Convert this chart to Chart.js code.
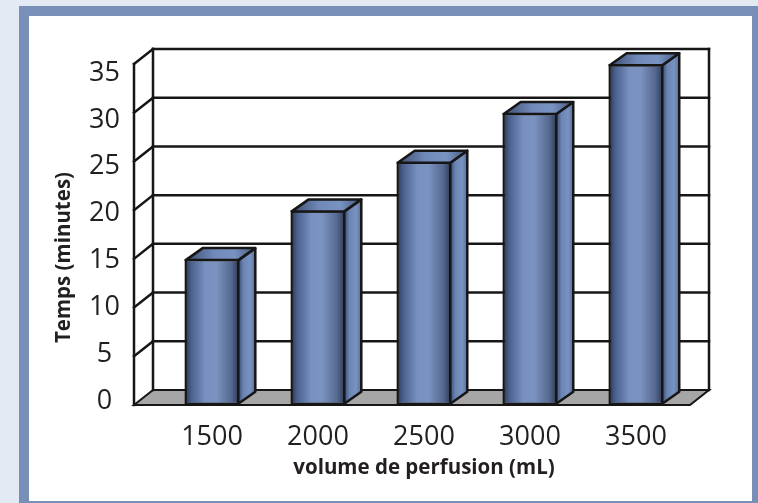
<!DOCTYPE html>
<html>
<head>
<meta charset="utf-8">
<script src="https://cdn.jsdelivr.net/npm/chart.js@4/dist/chart.umd.min.js"></script>
<style>
  html, body { margin: 0; padding: 0; background: #e3eaf3; width: 758px; height: 503px; overflow: hidden; }
  #frame { position: absolute; left: 19px; top: 6px; width: 739px; height: 497px; background: #7890b8; }
  #panel { position: absolute; left: 29px; top: 16px; width: 723px; height: 485px; background: #ffffff; }
  #c { position: absolute; left: 0; top: 0; }
</style>
</head>
<body>
<div id="frame"></div>
<div id="panel"></div>
<canvas id="c" width="758" height="503"></canvas>
<script>
// Infusion volume (mL) and the time it takes (minutes)
const volumes = [1500, 2000, 2500, 3000, 3500];
const minutes = [15, 20, 25, 30, 35];
const yTicks = [0, 5, 10, 15, 20, 25, 30, 35];

const X_TITLE = 'volume de perfusion (mL)';
const Y_TITLE = 'Temps (minutes)';

const WALL = { dx: 19, dy: -15 };   // depth of the back wall / floor
const BAR = { dx: 17, dy: -12 };    // depth of each column
const BAR_FRACTION = 0.52;
const INK = '#161616';
const TEXT = '#231f20';
const STROKE = 2.5;

function frontGradient(g) {
  g.addColorStop(0, '#24304a');
  g.addColorStop(0.12, '#4a5f8c');
  g.addColorStop(0.38, '#7891c0');
  g.addColorStop(0.58, '#7b93c0');
  g.addColorStop(0.85, '#55688f');
  g.addColorStop(1, '#2a3651');
  return g;
}
function sideGradient(g) {
  g.addColorStop(0, '#3b4b6e');
  g.addColorStop(0.3, '#6a84b4');
  g.addColorStop(0.7, '#7892c2');
  g.addColorStop(1, '#5a6f99');
  return g;
}
function topGradient(g) {
  g.addColorStop(0, '#3d4d70');
  g.addColorStop(0.4, '#7089b8');
  g.addColorStop(0.7, '#7893c2');
  g.addColorStop(1, '#44557a');
  return g;
}

function line(ctx, x1, y1, x2, y2) {
  ctx.beginPath(); ctx.moveTo(x1, y1); ctx.lineTo(x2, y2); ctx.stroke();
}

// Back wall, left wall and floor behind the columns
const walls = {
  id: 'walls',
  beforeDatasetsDraw(chart) {
    const { ctx, chartArea: { left, right, top, bottom }, scales: { y } } = chart;
    const { dx, dy } = WALL;
    ctx.save();
    ctx.lineCap = 'square';
    ctx.lineJoin = 'miter';
    // floor
    ctx.beginPath();
    ctx.moveTo(left, bottom);
    ctx.lineTo(right, bottom);
    ctx.lineTo(right + dx, bottom + dy);
    ctx.lineTo(left + dx, bottom + dy);
    ctx.closePath();
    ctx.fillStyle = '#a6a6a6';
    ctx.fill();
    ctx.strokeStyle = INK;
    ctx.lineWidth = 2;
    ctx.stroke();
    // grid lines on the back and side walls
    ctx.lineWidth = STROKE;
    yTicks.forEach(v => {
      const py = y.getPixelForValue(v);
      if (v > 0) {
        line(ctx, left + dx, py + dy, right + dx, py + dy);
        line(ctx, left, py, left + dx, py + dy);
      }
    });
    const yt = y.getPixelForValue(yTicks[yTicks.length - 1]);
    line(ctx, left, bottom, left, yt);
    line(ctx, left + dx, bottom + dy, left + dx, yt + dy);
    line(ctx, right + dx, bottom + dy, right + dx, yt + dy);
    ctx.restore();
  },
  // top and side faces of every column
  afterDatasetsDraw(chart) {
    const { ctx } = chart;
    const meta = chart.getDatasetMeta(0);
    const { dx, dy } = BAR;
    ctx.save();
    ctx.lineJoin = 'round';
    ctx.strokeStyle = INK;
    ctx.lineWidth = STROKE;
    meta.data.forEach(bar => {
      const { x, y, width, base } = bar.getProps(['x', 'y', 'width', 'base'], true);
      if (![x, y, width, base].every(Number.isFinite)) return;
      const h = STROKE / 2;
      const x0 = x - width / 2 + h, x1 = x + width / 2 - h, yt = y + h, yb = base - h;
      // side face
      ctx.beginPath();
      ctx.moveTo(x1, yt);
      ctx.lineTo(x1 + dx, yt + dy);
      ctx.lineTo(x1 + dx, yb + dy);
      ctx.lineTo(x1, yb);
      ctx.closePath();
      ctx.fillStyle = sideGradient(ctx.createLinearGradient(x1, 0, x1 + dx, 0));
      ctx.fill();
      ctx.stroke();
      // top face
      ctx.beginPath();
      ctx.moveTo(x0, yt);
      ctx.lineTo(x1, yt);
      ctx.lineTo(x1 + dx, yt + dy);
      ctx.lineTo(x0 + dx, yt + dy);
      ctx.closePath();
      ctx.fillStyle = topGradient(ctx.createLinearGradient(x0, 0, x1 + dx, 0));
      ctx.fill();
      ctx.stroke();
    });
    ctx.restore();
  },
  // axis titles
  afterDraw(chart) {
    const { ctx, chartArea: { top, bottom }, scales: { x, yl } } = chart;
    ctx.save();
    ctx.fillStyle = TEXT;
    ctx.font = 'bold 20.5px "Open Sans"';
    ctx.textAlign = 'center';
    ctx.textBaseline = 'middle';
    const cx = (x.getPixelForValue(volumes[0]) + x.getPixelForValue(volumes[volumes.length - 1])) / 2;
    ctx.fillText(X_TITLE, cx, bottom + 63);
    ctx.translate(yl.left + 24, (top + bottom) / 2 + 23);
    ctx.rotate(-Math.PI / 2);
    ctx.fillText(Y_TITLE, 0, 0);
    ctx.restore();
  }
};

const tickFont = { family: '"Open Sans"', size: 27, weight: '400' };

new Chart(document.getElementById('c'), {
  type: 'bar',
  data: {
    datasets: [{
      data: volumes.map((v, i) => ({ x: v, y: minutes[i] })),
      yAxisID: 'y',
      xAxisID: 'x',
      backgroundColor(c) {
        const chart = c.chart, xs = chart.scales && chart.scales.x;
        const fallback = '#6f88b5';
        if (!xs || !c.parsed || !Number.isFinite(c.parsed.x)) return fallback;
        const cx = xs.getPixelForValue(c.parsed.x);
        const step = xs.getPixelForValue(volumes[1]) - xs.getPixelForValue(volumes[0]);
        const hw = step * BAR_FRACTION / 2;
        if (!Number.isFinite(cx) || !Number.isFinite(hw) || hw <= 0) return fallback;
        return frontGradient(chart.ctx.createLinearGradient(cx - hw, 0, cx + hw, 0));
      },
      borderColor: INK,
      borderWidth: STROKE,
      borderSkipped: false,
      barPercentage: 1,
      categoryPercentage: BAR_FRACTION
    }]
  },
  options: {
    responsive: false,
    animation: false,
    devicePixelRatio: 1,
    layout: { padding: { left: 40, right: 68, top: 64, bottom: 20 } },
    plugins: { legend: { display: false }, tooltip: { enabled: false } },
    scales: {
      x: {
        type: 'linear',
        position: 'bottom',
        offset: false,
        min: 1132,
        max: 3755,
        afterBuildTicks(s) { s.ticks = volumes.map(v => ({ value: v })); },
        afterFit(s) { s.height = 78; },
        grid: { display: false, drawTicks: false },
        border: { display: false },
        ticks: { font: tickFont, color: TEXT, padding: 16, callback: v => String(v), maxRotation: 0, autoSkip: false }
      },
      y: {
        display: false,
        min: 0,
        max: 35
      },
      yl: {
        type: 'linear',
        position: 'left',
        min: -0.427,
        max: 35.96,
        afterBuildTicks(s) { s.ticks = yTicks.map(v => ({ value: v })); },
        afterFit(s) { s.width = 94; },
        grid: { display: false, drawTicks: false },
        border: { display: false },
        ticks: { font: tickFont, color: TEXT, padding: 14, crossAlign: 'center', callback: v => String(v) }
      }
    }
  },
  plugins: [walls]
});
</script>
</body>
</html>
